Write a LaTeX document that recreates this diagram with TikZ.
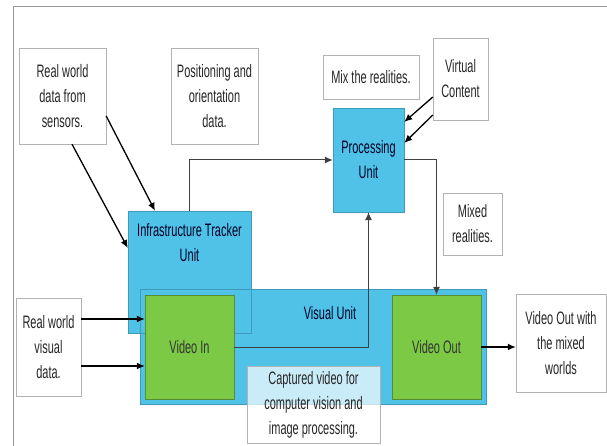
\documentclass[tikz,border=0pt]{standalone}
\usepackage{fontspec}
\setmainfont[FakeStretch=0.61]{Liberation Sans}
\usepackage{xcolor}
\usetikzlibrary{positioning,arrows.meta,calc}

\definecolor{unitblue}{HTML}{50C2E8}
\definecolor{unitgreen}{HTML}{7BC945}

\begin{document}
\begin{tikzpicture}[x=1pt, y=-1pt,
    note/.style={rectangle, draw=black!30, fill=white, align=center, inner sep=2pt, font=\fontsize{18}{25}\selectfont, text=black!85},
    unit/.style={rectangle, draw=unitblue!80!black, fill=unitblue, align=center, font=\fontsize{18}{25}\selectfont, text=black!75!blue!60!black},
    video/.style={rectangle, draw=unitgreen!70!black, fill=unitgreen, minimum width=89pt, minimum height=104pt, font=\fontsize{18}{25}\selectfont, text=black!80},
    arrow/.style={-{Latex[length=8pt,width=7pt]}, line width=1.3pt},
    link/.style={-{Latex[length=8pt,width=7pt]}, line width=1pt, black!75}]

    \useasboundingbox (0,0) rectangle (607,446);

    % Frame
    \draw[black!40, line width=1pt] (13,446) -- (13,7) -- (607,7);

    % Notes on top
    \node[note, minimum width=87pt, minimum height=96pt] (sensors) at (62.5,96) {Real world\\data from\\sensors.};
    \node[note, minimum width=87pt, minimum height=96pt] (posdata) at (214.5,96) {Positioning and\\orientation\\data.};
    \node[note, minimum width=96pt, minimum height=44pt] (mix) at (371,77) {Mix the realities.};
    \node[note, minimum width=55pt, minimum height=82pt] (virtual) at (460.5,79) {Virtual\\Content};
    \node[note, minimum width=59pt, minimum height=62pt] (mixed) at (472.5,224) {Mixed\\realities.};

    % Units
    \node[unit, minimum width=71pt, minimum height=104pt] (processing) at (368.5,160) {Processing\\Unit};
    \node[unit, minimum width=123pt, minimum height=122pt] (tracker) at (189.5,272) {};
    \node[unit, minimum width=346pt, minimum height=115pt] (visual) at (313,346.5) {};
    \draw[unitblue!80!black] (tracker.north west) rectangle (tracker.south east);
    \node[unit, draw=none, fill=none, below=9pt of tracker.north] (trackertext) {Infrastructure Tracker\\Unit};
    \node[unit, draw=none, fill=none] (visualtext) at (330,313) {Visual Unit};

    % Video boxes
    \node[video] (videoin) at (189.5,347) {Video In};
    \node[video] (videoout) at (436.5,347) {Video Out};

    % Side notes
    \node[note, minimum width=65pt, minimum height=98pt] (visdata) at (48.5,347) {Real world\\visual\\data.};
    \node[note, minimum width=90pt, minimum height=98pt] (worlds) at (561,343) {Video Out with\\the mixed\\worlds};
    \node[note, fill opacity=0.7, text opacity=1, minimum width=133pt, minimum height=77pt] (captured) at (313.5,404.5) {Captured video for\\computer vision and\\image processing.};

    % Connections
    \draw[arrow] ([yshift=-20pt]sensors.east) -- ([xshift=-34.5pt]tracker.north);
    \draw[arrow] ([xshift=9.5pt]sensors.south) -- ([yshift=24pt]tracker.west);
    \draw[link] (tracker.north) |- (processing.west);
    \draw[arrow] ([yshift=-18pt]virtual.west) -- ([yshift=38pt]processing.east);
    \draw[arrow] ([yshift=-36pt]virtual.west) -- ([yshift=17pt]processing.east);
    \draw[link] (processing.east) -| (videoout.north);
    \draw[link] (videoin.east) -| (processing.south);
    \draw[arrow] ([yshift=28pt]visdata.east) -- ([yshift=28pt]videoin.west);
    \draw[arrow] ([yshift=-19pt]visdata.east) -- ([yshift=-19pt]videoin.west);
    \draw[arrow] (videoout.east) -- (videoout.east -| worlds.west);
\end{tikzpicture}
\end{document}
